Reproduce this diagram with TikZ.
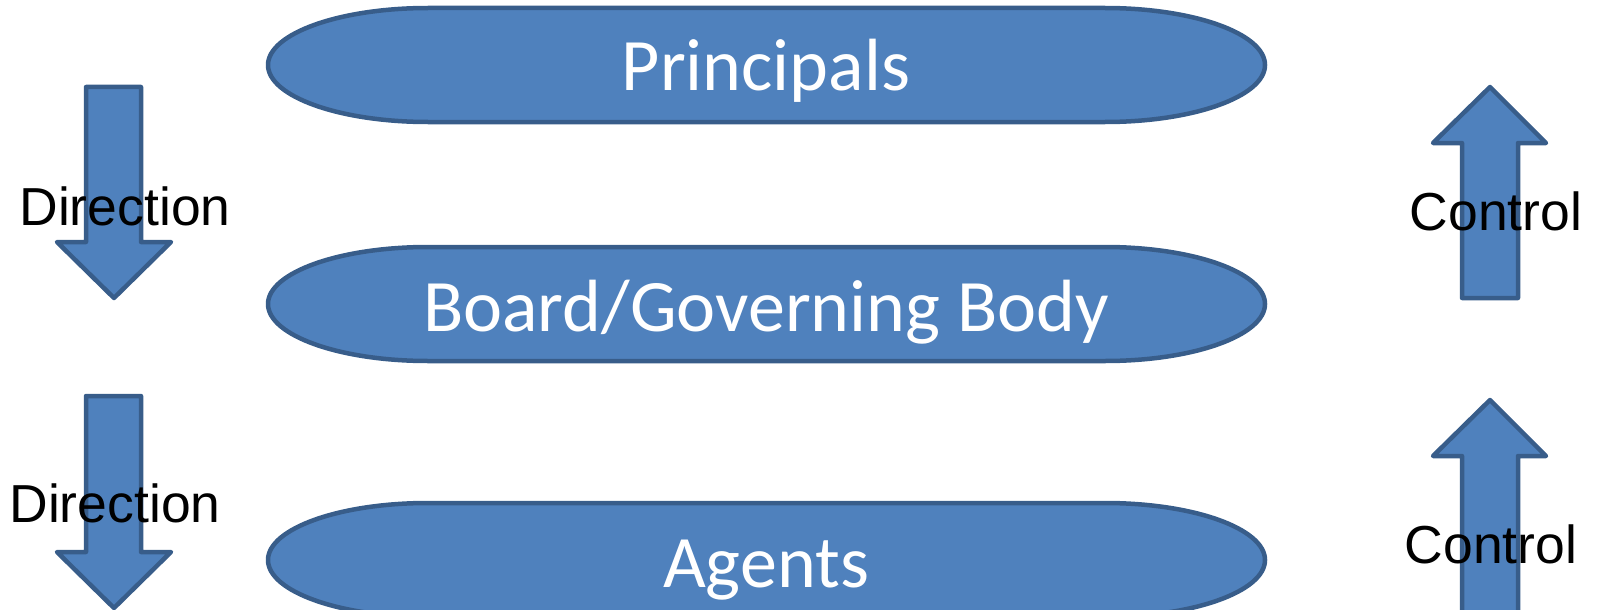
\documentclass[tikz,border=0pt]{standalone}
\usepackage{fontspec}
\setmainfont{Liberation Sans}
\newfontfamily\shapefont{Carlito}
\definecolor{blockfill}{HTML}{4F81BD}
\definecolor{blockedge}{HTML}{385D8A}
\begin{document}
\begin{tikzpicture}[x=1pt,y=-1pt,
  block/.style={fill=blockfill,draw=blockedge,line width=4.5pt,line join=round},
  blocktext/.style={text=white,font=\shapefont\fontsize{74}{74}\selectfont,anchor=base,inner sep=0pt},
  flowlabel/.style={text=black,font=\fontsize{53.5}{53.5}\selectfont,anchor=base,inner sep=0pt}]
\useasboundingbox (0,0) rectangle (1599,610);
\clip (0,0) rectangle (1599,610);

% terminator-shaped bars: straight top and bottom, elliptic ends
\foreach \cy in {65,304,560}{
  \draw[block] (428,\cy-57) -- (1105,\cy-57)
    arc[start angle=90,end angle=-90,x radius=160,y radius=-57]
    -- (428,\cy+57)
    arc[start angle=270,end angle=90,x radius=160,y radius=-57] -- cycle;
}
\node[blocktext] (principals) at (766,91) {Principals};
\node[blocktext] (board) at (766,331) {Board/Governing Body};
\node[blocktext] (agents) at (766,587) {Agents};

% block arrows pointing down on the left
\draw[block] (86,87) -- (141,87) -- (141,242) -- (171,242) -- (114,298)
  -- (57,242) -- (86,242) -- cycle;
\draw[block] (86,396) -- (141,396) -- (141,552) -- (171,552) -- (114,608)
  -- (57,552) -- (86,552) -- cycle;

% block arrows pointing up on the right
\draw[block] (1462,298) -- (1518,298) -- (1518,143) -- (1546,143) -- (1490,87)
  -- (1433,143) -- (1462,143) -- cycle;
\draw[block] (1462,640) -- (1518,640) -- (1518,456) -- (1546,456) -- (1490,400)
  -- (1433,456) -- (1462,456) -- cycle;

\node[flowlabel] (dir1) at (125,225) {Direction};
\node[flowlabel] (dir2) at (115,522) {Direction};
\node[flowlabel] (ctl1) at (1496,230) {Control};
\node[flowlabel] (ctl2) at (1491,563) {Control};
\end{tikzpicture}
\end{document}
